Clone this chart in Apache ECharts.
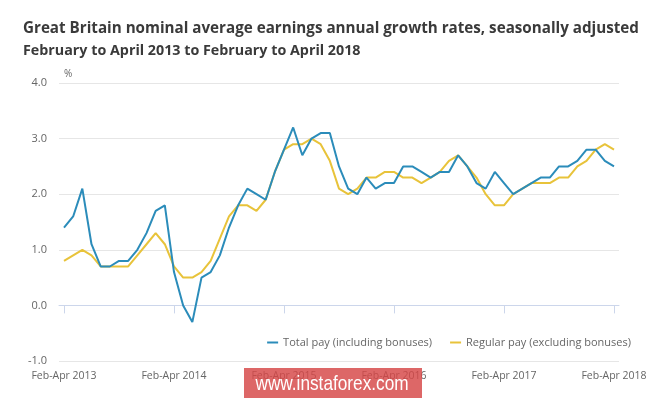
<!DOCTYPE html>
<html>
<head>
<meta charset="utf-8">
<script src="https://cdn.jsdelivr.net/npm/echarts@6/dist/echarts.min.js"></script>
<style>
  html, body { margin: 0; padding: 0; background: #fff; }
  #chart { width: 665px; height: 399px; }
</style>
</head>
<body>
<div id="chart"></div>
<script>
// 61 rolling 3-month periods, Feb-Apr 2013 .. Feb-Apr 2018
const tickPositions = [0, 12, 24, 36, 48, 60]
const tickLabels = ['Feb-Apr 2013', 'Feb-Apr 2014', 'Feb-Apr 2015', 'Feb-Apr 2016', 'Feb-Apr 2017', 'Feb-Apr 2018']

const totalPay = [
  1.4, 1.6, 2.1, 1.1, 0.7, 0.7, 0.8, 0.8, 1.0, 1.3, 1.7, 1.8,
  0.6, 0.0, -0.3, 0.5, 0.6, 0.9, 1.4, 1.8, 2.1, 2.0, 1.9, 2.4,
  2.8, 3.2, 2.7, 3.0, 3.1, 3.1, 2.5, 2.1, 2.0, 2.3, 2.1, 2.2,
  2.2, 2.5, 2.5, 2.4, 2.3, 2.4, 2.4, 2.7, 2.5, 2.2, 2.1, 2.4,
  2.2, 2.0, 2.1, 2.2, 2.3, 2.3, 2.5, 2.5, 2.6, 2.8, 2.8, 2.6,
  2.5
]
const regularPay = [
  0.8, 0.9, 1.0, 0.9, 0.7, 0.7, 0.7, 0.7, 0.9, 1.1, 1.3, 1.1,
  0.7, 0.5, 0.5, 0.6, 0.8, 1.2, 1.6, 1.8, 1.8, 1.7, 1.9, 2.4,
  2.8, 2.9, 2.9, 3.0, 2.9, 2.6, 2.1, 2.0, 2.1, 2.3, 2.3, 2.4,
  2.4, 2.3, 2.3, 2.2, 2.3, 2.4, 2.6, 2.7, 2.5, 2.3, 2.0, 1.8,
  1.8, 2.0, 2.1, 2.2, 2.2, 2.2, 2.3, 2.3, 2.5, 2.6, 2.8, 2.9,
  2.8
]

const FONT = 'Open Sans'
const chart = echarts.init(document.getElementById('chart'))

chart.setOption({
  backgroundColor: '#fff',
  animation: false,
  title: {
    left: 18,
    top: 14,
    text: 'Great Britain nominal average earnings annual growth rates, seasonally adjusted',
    subtext: 'February to April 2013 to February to April 2018',
    itemGap: 3,
    textStyle: { fontFamily: FONT, fontSize: 15.2, fontWeight: 'bold', color: '#3a3a3a', lineHeight: 20 },
    subtextStyle: { fontFamily: FONT, fontSize: 14.3, fontWeight: 'bold', color: '#3a3a3a', lineHeight: 18 }
  },
  legend: {
    right: 29,
    top: 332,
    itemWidth: 11,
    itemHeight: 2,
    itemGap: 18,
    icon: 'rect',
    textStyle: { fontFamily: FONT, fontSize: 11, color: '#666' },
    data: ['Total pay (including bonuses)', 'Regular pay (excluding bonuses)']
  },
  grid: { left: 59, right: 46, top: 83, bottom: 38, containLabel: false },
  xAxis: {
    type: 'value',
    min: -0.545,
    max: 60.545,
    axisLine: { lineStyle: { color: '#ccd6eb', width: 1 } },
    axisTick: { show: true, customValues: tickPositions, length: 8, lineStyle: { color: '#ccd6eb' } },
    axisLabel: {
      customValues: tickPositions,
      formatter: (v) => tickLabels[tickPositions.indexOf(Math.round(v))] || '',
      fontFamily: FONT, fontSize: 10.5, color: '#666', margin: 10
    },
    splitLine: { show: false }
  },
  yAxis: {
    type: 'value',
    min: -1,
    max: 4,
    interval: 1,
    name: '%',
    nameLocation: 'end',
    nameGap: 4,
    nameTextStyle: { fontFamily: FONT, fontSize: 10, color: '#666', align: 'left', verticalAlign: 'bottom' },
    axisLine: { show: false },
    axisTick: { show: false },
    axisLabel: { fontFamily: FONT, fontSize: 11, color: '#666', margin: 12, formatter: (v) => v.toFixed(1) },
    splitLine: { lineStyle: { color: '#e6e6e6', width: 1 } }
  },
  series: [
    {
      name: 'Total pay (including bonuses)',
      type: 'line',
      symbol: 'none',
      color: '#2b8cba',
      lineStyle: { width: 2 },
      z: 3,
      data: totalPay.map((v, i) => [i, v])
    },
    {
      name: 'Regular pay (excluding bonuses)',
      type: 'line',
      symbol: 'none',
      color: '#e8c33a',
      lineStyle: { width: 2 },
      z: 2,
      data: regularPay.map((v, i) => [i, v])
    }
  ],
  graphic: [
    // watermark banner over the x-axis labels
    {
      type: 'rect', z: 100,
      shape: { x: 244, y: 368, width: 178, height: 30 },
      style: { fill: 'rgba(214, 70, 70, 0.82)' }
    },
    {
      type: 'text', z: 101,
      x: 332, y: 384, scaleX: 0.82,
      style: {
        x: 0, y: 0, text: 'www.instaforex.com', align: 'center', verticalAlign: 'middle',
        fill: '#fff', font: '21px "Liberation Sans", Arial, sans-serif'
      }
    }
  ]
})
</script>
</body>
</html>
